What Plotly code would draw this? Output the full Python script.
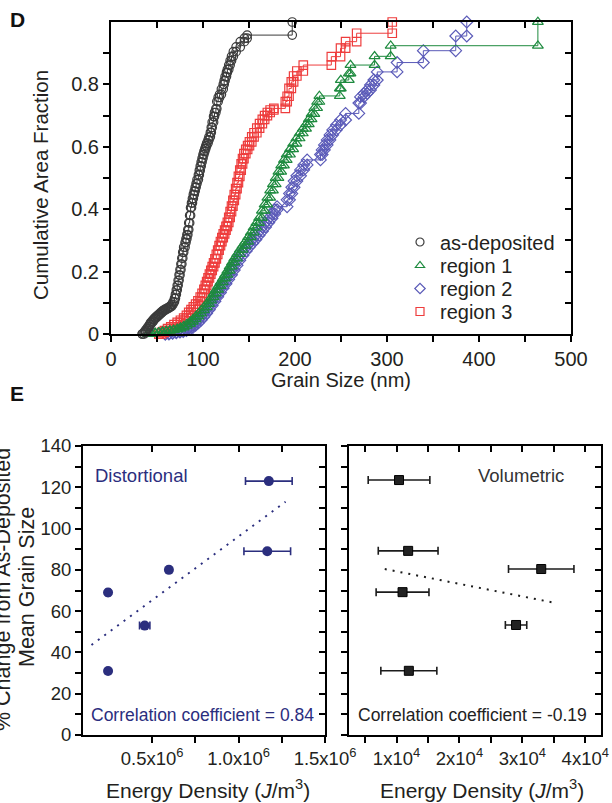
import plotly.graph_objects as go

W, H = 612, 803
FONT = "Liberation Sans, Arial, Helvetica, sans-serif"
INK = "#231f20"

# ---------------- Panel D data: grain size (nm) vs cumulative area fraction
asdep_size = [34, 36, 37.5, 39, 40.5, 42, 43, 44.5, 46, 47, 48.5, 50, 51.5, 53, 54.5, 56, 57.5, 59, 61, 63,
              64.5, 66, 67.5, 69, 70, 71, 72, 73, 74, 75, 76, 77, 78, 79, 80.5, 81.5, 82.5, 83.5, 84.5, 85.5,
              86.5, 87.5, 88.5, 89.5, 90.5, 91.5, 92.5, 93.5, 95, 96, 97, 98, 99, 100, 101, 102, 103, 104,
              105.5, 106.5, 108, 109, 110, 111.5, 112.5, 114, 115, 116.5, 118, 120, 122, 123, 124, 125.5,
              126.5, 128, 129.5, 131, 133, 136, 140.5, 145, 148, 197]
asdep_frac = [0, 0.006, 0.012, 0.018, 0.024, 0.031, 0.036, 0.041, 0.046, 0.05, 0.054, 0.058, 0.062, 0.066, 0.07,
              0.074, 0.077, 0.08, 0.083, 0.086, 0.089, 0.095, 0.103, 0.114, 0.127, 0.141, 0.156, 0.172, 0.189,
              0.206, 0.224, 0.243, 0.262, 0.278, 0.293, 0.305, 0.318, 0.334, 0.356, 0.38, 0.405, 0.42, 0.434,
              0.447, 0.458, 0.47, 0.482, 0.495, 0.51, 0.524, 0.538, 0.551, 0.563, 0.575, 0.585, 0.594, 0.603,
              0.612, 0.622, 0.632, 0.646, 0.662, 0.679, 0.697, 0.71, 0.722, 0.745, 0.758, 0.768, 0.785, 0.8,
              0.812, 0.825, 0.838, 0.848, 0.862, 0.876, 0.89, 0.905, 0.92, 0.937, 0.948, 0.958, 1.0]

reg1_size = [40.5, 44, 48, 52, 56, 60, 64, 68, 72, 75.5, 79, 82.5, 86, 89, 92, 95, 98, 101, 104, 106.5,
             109, 111.5, 114, 116.5, 119, 121.5, 124, 126.5, 129, 131.5, 134, 137, 140, 143, 146, 149, 152,
             155, 158, 161, 164, 167, 170, 173, 176, 179, 182, 185, 188, 191, 194.5, 198, 201.5, 205, 208.5,
             212, 215, 218, 221, 224, 226.5, 248.7, 249.8, 258.5, 260.3, 286.5, 304, 464]
reg1_frac = [0, 0.002, 0.004, 0.006, 0.008, 0.01, 0.012, 0.014, 0.017, 0.021, 0.026, 0.032, 0.039, 0.047,
             0.056, 0.066, 0.076, 0.086, 0.096, 0.107, 0.118, 0.13, 0.142, 0.154, 0.166, 0.178, 0.19, 0.203,
             0.216, 0.229, 0.242, 0.256, 0.27, 0.283, 0.296, 0.31, 0.325, 0.341, 0.356, 0.372, 0.395, 0.415,
             0.437, 0.46, 0.48, 0.5, 0.52, 0.54, 0.558, 0.575, 0.592, 0.61, 0.627, 0.643, 0.658, 0.672, 0.688,
             0.705, 0.724, 0.744, 0.763, 0.787, 0.814, 0.835, 0.862, 0.89, 0.924, 1.0]

reg2_size = [59, 63, 67, 71, 75, 78.5, 82, 85.5, 89, 92, 95, 98, 101, 104, 107, 110, 113, 116, 119, 122,
             125, 128, 131, 134, 137, 140, 143.5, 147, 150.5, 154, 157.5, 161, 164.5, 168, 171.5, 175, 178,
             180.5, 191.4, 194, 196.5, 199, 202, 206, 209.5, 213.2, 227.7, 229.5, 232, 235, 238, 241, 245,
             249.5, 255, 269.4, 271.2, 275, 278.5, 282, 285.7, 289.4, 311, 339.5, 374.7, 386.7]
reg2_frac = [0, 0.002, 0.004, 0.006, 0.008, 0.011, 0.015, 0.021, 0.028, 0.036, 0.045, 0.055, 0.066, 0.078,
             0.091, 0.105, 0.119, 0.133, 0.147, 0.161, 0.175, 0.19, 0.205, 0.22, 0.236, 0.252, 0.266, 0.279,
             0.291, 0.303, 0.316, 0.329, 0.343, 0.357, 0.371, 0.385, 0.398, 0.408, 0.43, 0.45, 0.47, 0.49,
             0.507, 0.526, 0.542, 0.558, 0.575, 0.59, 0.606, 0.622, 0.638, 0.654, 0.67, 0.686, 0.707, 0.74,
             0.76, 0.771, 0.782, 0.798, 0.814, 0.84, 0.87, 0.908, 0.955, 1.0]

reg3_size = [52, 55, 58, 61.5, 65, 68.5, 72, 75.5, 79, 82, 84.5, 87, 89.5, 92, 94.5, 97, 99, 101, 102.5, 104,
             105.5, 107, 108.5, 110, 111.5, 113, 114.5, 116, 117.5, 119, 120.5, 122, 123.5, 125, 126.5, 128,
             129.5, 131, 132.5, 134, 135.5, 137, 138.5, 140, 141.5, 143, 144.5, 146.5, 148.5, 150.5, 153,
             155.5, 158.5, 161.5, 164.5, 167, 170, 173, 177, 189.5, 191.5, 193.5, 196, 198.5, 202, 209,
             239.5, 249.5, 255, 267, 305.7]
reg3_frac = [0, 0.005, 0.011, 0.017, 0.023, 0.03, 0.037, 0.044, 0.051, 0.06, 0.069, 0.078, 0.087, 0.096,
             0.106, 0.118, 0.13, 0.143, 0.156, 0.168, 0.18, 0.192, 0.204, 0.216, 0.228, 0.241, 0.255, 0.269,
             0.283, 0.296, 0.309, 0.321, 0.333, 0.345, 0.358, 0.374, 0.392, 0.41, 0.428, 0.447, 0.466, 0.485,
             0.505, 0.525, 0.545, 0.562, 0.578, 0.592, 0.604, 0.616, 0.632, 0.645, 0.66, 0.674, 0.688, 0.7,
             0.71, 0.718, 0.723, 0.745, 0.762, 0.787, 0.808, 0.827, 0.843, 0.862, 0.889, 0.916, 0.937,
             0.964, 1.0]

series_names = ["as-deposited", "region 1", "region 2", "region 3"]

# ---------------- Panel E data
grain_change = [123, 89, 80, 69, 53, 31]            # % change of mean grain size
dist_energy = [1.175e6, 1.166e6, 0.597e6, 0.245e6, 0.457e6, 0.245e6]
dist_err = [0.135e6, 0.135e6, 0.012e6, 0.012e6, 0.03e6, 0.012e6]
vol_energy = [1.04e4, 1.185e4, 3.30e4, 1.096e4, 2.90e4, 1.196e4]
vol_change = [123.5, 89.2, 80.4, 69.2, 53.3, 31.1]
vol_err = [0.49e4, 0.475e4, 0.52e4, 0.42e4, 0.17e4, 0.445e4]
dist_fit_x = [0.149e6, 1.272e6]
dist_fit_y = [43.6, 113.0]
vol_fit_x = [0.813e4, 3.52e4]
vol_fit_y = [80.4, 64.0]

D_xticks = [0, 100, 200, 300, 400, 500]
D_yticks = [0, 0.2, 0.4, 0.6, 0.8]
E_yticks = [0, 20, 40, 60, 80, 100, 120, 140]
dist_xticks = [0.5e6, 1.0e6, 1.5e6]
dist_xlabels = ["0.5x10<sup>6</sup>", "1.0x10<sup>6</sup>", "1.5x10<sup>6</sup>"]
vol_xticks = [1e4, 2e4, 3e4, 4e4]
vol_xlabels = ["1x10<sup>4</sup>", "2x10<sup>4</sup>", "3x10<sup>4</sup>", "4x10<sup>4</sup>"]


def px(x):
    return x / W


def py(y):
    return 1 - y / H


def steps(sizes, fracs):
    xs, ys = [], []
    prev = fracs[0]
    for s, f in zip(sizes, fracs):
        xs += [s, s]
        ys += [prev, f]
        prev = f
    return xs, ys


fig = go.Figure()

styles = {
    "as-deposited": dict(color="#3b3b3b", symbol="circle-open", size=8.5),
    "region 1": dict(color="#1d8a3e", symbol="triangle-up-open", size=9.5),
    "region 2": dict(color="#5a5ab8", symbol="diamond-open", size=9),
    "region 3": dict(color="#ee3d3d", symbol="square-open", size=8.5),
}
data = {
    "as-deposited": (asdep_size, asdep_frac),
    "region 1": (reg1_size, reg1_frac),
    "region 2": (reg2_size, reg2_frac),
    "region 3": (reg3_size, reg3_frac),
}
for name in ["region 2", "region 3", "region 1", "as-deposited"]:
    st = styles[name]
    xs, ys = steps(*data[name])
    fig.add_trace(go.Scatter(
        x=xs, y=ys, mode="lines+markers", xaxis="x", yaxis="y", showlegend=False,
        line=dict(color=st["color"], width=1),
        marker=dict(symbol=st["symbol"], size=st["size"], color=st["color"], line=dict(width=1.2, color=st["color"])),
        cliponaxis=False, hoverinfo="skip"))

legend_ids = ["legend", "legend2", "legend3", "legend4"]
for name, lid in zip(series_names, legend_ids):
    st = styles[name]
    fig.add_trace(go.Scatter(
        x=[None], y=[None], mode="markers", name=name, xaxis="x", yaxis="y", legend=lid,
        marker=dict(symbol=st["symbol"], size=8, color=st["color"], line=dict(width=1.2, color=st["color"]))))

NAVY = "#2b2e7e"
VBLK = "#1c1c1c"
fig.add_trace(go.Scatter(x=dist_fit_x, y=dist_fit_y, mode="lines", xaxis="x2", yaxis="y2", showlegend=False,
                         line=dict(color=NAVY, width=2, dash="2px,6px"), hoverinfo="skip"))
fig.add_trace(go.Scatter(
    x=dist_energy, y=grain_change, mode="markers", xaxis="x2", yaxis="y2", showlegend=False,
    marker=dict(symbol="circle", size=10, color=NAVY),
    error_x=dict(type="data", array=dist_err, color=NAVY, thickness=1.6, width=4),
    cliponaxis=False, hoverinfo="skip"))

fig.add_trace(go.Scatter(x=vol_fit_x, y=vol_fit_y, mode="lines", xaxis="x3", yaxis="y3", showlegend=False,
                         line=dict(color=VBLK, width=2, dash="2px,6px"), hoverinfo="skip"))
fig.add_trace(go.Scatter(
    x=vol_energy, y=vol_change, mode="markers", xaxis="x3", yaxis="y3", showlegend=False,
    marker=dict(symbol="square", size=9, color="#222222", line=dict(width=1, color="#000000")),
    error_x=dict(type="data", array=vol_err, color=VBLK, thickness=1.6, width=4),
    cliponaxis=False, hoverinfo="skip"))

for ax in ["4", "5", "6"]:
    fig.add_trace(go.Scatter(x=[None], y=[None], xaxis="x" + ax, yaxis="y" + ax, showlegend=False,
                             hoverinfo="skip"))

dD_x = [px(111), px(571)]
dD_y = [py(334), py(22)]
dL_x = [px(83), px(325)]
dR_x = [px(349), px(601)]
dE_y = [py(735), py(446)]

tickfont_D = dict(family=FONT, size=20, color=INK)
tickfont_E = dict(family=FONT, size=18.5, color=INK)

common = dict(showline=True, linecolor="black", linewidth=2, ticks="outside", ticklen=6, tickwidth=1.5,
              tickcolor="black", showgrid=False, zeroline=False, mirror=True, fixedrange=True,
              automargin=False)
over = dict(showline=False, ticks="inside", ticklen=6, tickwidth=1.5, tickcolor="black", showgrid=False,
            zeroline=False, showticklabels=False, fixedrange=True, tickmode="array", automargin=False)

legend_rows = [242, 265.5, 288.5, 311.5]
legend_layout = {}
for lid, ry in zip(legend_ids, legend_rows):
    legend_layout[lid] = dict(x=px(400), y=py(ry), xanchor="left", yanchor="middle",
                              bgcolor="rgba(0,0,0,0)", borderwidth=0,
                              font=dict(family=FONT, size=20, color=INK), itemwidth=30)

fig.update_layout(
    template="none",
    width=W, height=H, margin=dict(l=0, r=0, t=0, b=0, pad=0), autosize=False,
    paper_bgcolor="white", plot_bgcolor="white",
    font=dict(family=FONT, color=INK),
    xaxis=dict(domain=dD_x, anchor="y", range=[0, 500], tickmode="array", tickvals=D_xticks,
               tickfont=tickfont_D,
               minor=dict(tickmode="array", tickvals=[50, 150, 250, 350, 450], ticks="outside", ticklen=6,
                          tickwidth=1.5, tickcolor="black"), **common),
    yaxis=dict(domain=dD_y, anchor="x", range=[0, 1.0], tickmode="array", tickvals=D_yticks,
               ticktext=["0", "0.2", "0.4", "0.6", "0.8"], tickfont=tickfont_D,
               minor=dict(tickmode="array", tickvals=[0.1, 0.3, 0.5, 0.7, 0.9], ticks="outside", ticklen=6,
                          tickwidth=1.5, tickcolor="black"), **common),
    xaxis4=dict(overlaying="x", side="top", anchor="y4", range=[0, 500],
                tickvals=[50 * i for i in range(1, 10)], **over),
    yaxis4=dict(overlaying="y", side="right", anchor="x4", range=[0, 1.0],
                tickvals=[0.1 * i for i in range(1, 10)], **over),
    xaxis2=dict(domain=dL_x, anchor="y2", range=[0.1e6, 1.5e6], tickmode="array", tickvals=dist_xticks,
                ticktext=dist_xlabels, tickfont=tickfont_E,
                minor=dict(tickmode="array", tickvals=[0.75e6, 1.25e6], ticks="outside", ticklen=6,
                           tickwidth=1.5, tickcolor="black"), **common),
    yaxis2=dict(domain=dE_y, anchor="x2", range=[0, 140], tickmode="array", tickvals=E_yticks,
                tickfont=tickfont_E,
                minor=dict(tickmode="array", tickvals=[10, 30, 50, 70, 90, 110, 130], ticks="outside",
                           ticklen=6, tickwidth=1.5, tickcolor="black"), **common),
    xaxis5=dict(overlaying="x2", side="top", anchor="y5", range=[0.1e6, 1.5e6],
                tickvals=[0.5e6, 0.75e6, 1.0e6, 1.25e6], **over),
    yaxis5=dict(overlaying="y2", side="right", anchor="x5", range=[0, 140],
                tickvals=[10 * i for i in range(1, 14)], **over),
    xaxis3=dict(domain=dR_x, anchor="y3", range=[2450, 42500], tickmode="array", tickvals=vol_xticks,
                ticktext=vol_xlabels, tickfont=tickfont_E,
                minor=dict(tickmode="array", tickvals=[5000, 15000, 25000, 35000], ticks="outside",
                           ticklen=6, tickwidth=1.5, tickcolor="black"), **common),
    yaxis3=dict(domain=dE_y, anchor="x3", range=[0, 140], tickmode="array",
                tickvals=[10 * i for i in range(0, 15)], showticklabels=False, **common),
    xaxis6=dict(overlaying="x3", side="top", anchor="y6", range=[2450, 42500],
                tickvals=[5000 * i for i in range(1, 9)], **over),
    yaxis6=dict(overlaying="y3", side="right", anchor="x6", range=[0, 140],
                tickvals=[10 * i for i in range(1, 14)], **over),
    **legend_layout,
)

ann = []


def add_text(text, x, y, size, color=INK, angle=0, xanchor="center", bold=False):
    ann.append(dict(text=("<b>%s</b>" % text) if bold else text, x=px(x), y=py(y), xref="paper",
                    yref="paper", showarrow=False, textangle=angle, xanchor=xanchor, yanchor="middle",
                    font=dict(family=FONT, size=size, color=color)))


add_text("D", 17, 20, 21, color="#111111", bold=True)
add_text("E", 17, 394, 21, color="#111111", bold=True)
add_text("Cumulative Area Fraction", 40, 185, 20.5, angle=-90)
add_text("Grain Size (nm)", 341, 380, 20)
add_text("% Change from As-Deposited", 3, 590, 21.5, angle=-90)
add_text("Mean Grain Size", 27, 587, 21.5, angle=-90)
add_text("Energy Density (<i>J</i>/m<sup>3</sup>)", 208, 789, 21)
add_text("Energy Density (<i>J</i>/m<sup>3</sup>)", 482, 789, 21)
add_text("Distortional", 93, 475, 18.5, color=NAVY, xanchor="left")
add_text("Correlation coefficient = 0.84", 89, 715, 17.5, color=NAVY, xanchor="left")
add_text("Volumetric", 521, 475, 18.5, color="#333333")
add_text("Correlation coefficient = -0.19", 472, 715, 17.5, color="#222222")

fig.update_layout(annotations=ann)
fig.write_html("out.html", config={"displayModeBar": False},
               post_script="document.body.style.margin='0px';")
